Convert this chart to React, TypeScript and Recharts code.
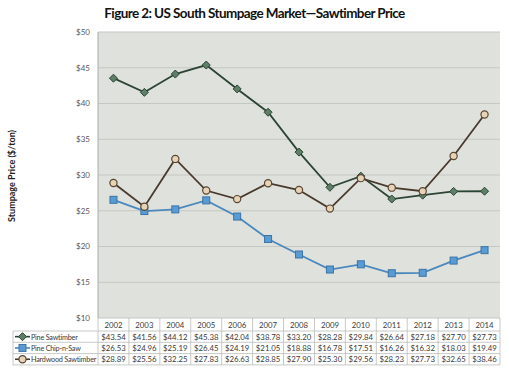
import { LineChart, Line, XAxis, YAxis, CartesianGrid } from "recharts";

const years = ["2002", "2003", "2004", "2005", "2006", "2007", "2008", "2009", "2010", "2011", "2012", "2013", "2014"];
const pineSawtimber = [43.54, 41.56, 44.12, 45.38, 42.04, 38.78, 33.2, 28.28, 29.84, 26.64, 27.18, 27.7, 27.73];
const pineChipNSaw = [26.53, 24.96, 25.19, 26.45, 24.19, 21.05, 18.88, 16.78, 17.51, 16.26, 16.32, 18.03, 19.49];
const hardwoodSawtimber = [28.89, 25.56, 32.25, 27.83, 26.63, 28.85, 27.9, 25.3, 29.56, 28.23, 27.73, 32.65, 38.46];
const yTicks = [10, 15, 20, 25, 30, 35, 40, 45, 50];

const FONT = "Lato, 'Open Sans', sans-serif";
const PLOT_L = 98;
const PLOT_R = 500;
const COL_W = (PLOT_R - PLOT_L) / years.length;
const TABLE_L = 13;
const ROWS = [0, 13, 24.3, 35.6, 46.9]; // row edges below plot bottom
const GRID = "#b9bcb8";
const TXT = "#3a3a3a";

const series = [
  { key: "pine", name: "Pine Sawtimber", values: pineSawtimber, line: "#2b4434", fill: "#5e7e68", mark: "diamond" },
  { key: "chip", name: "Pine Chip-n-Saw", values: pineChipNSaw, line: "#4a88bd", fill: "#5a9bd3", mark: "square" },
  { key: "hard", name: "Hardwood Sawtimber", values: hardwoodSawtimber, line: "#4a3a2d", fill: "#e7d4b7", mark: "circle" },
];

const data = years.map((y, i) => ({
  year: y,
  pine: pineSawtimber[i],
  chip: pineChipNSaw[i],
  hard: hardwoodSawtimber[i],
}));

function Marker({ cx, cy, mark, fill, stroke }: any) {
  if (cx == null || cy == null) return null;
  if (mark === "diamond") {
    const r = 4;
    return <polygon points={`${cx},${cy - r} ${cx + r},${cy} ${cx},${cy + r} ${cx - r},${cy}`} fill={fill} stroke={stroke} strokeWidth={1} />;
  }
  if (mark === "square") {
    return <rect x={cx - 3.5} y={cy - 3.5} width={7} height={7} fill={fill} stroke="#3b74a6" strokeWidth={1} />;
  }
  return <circle cx={cx} cy={cy} r={3.6} fill={fill} stroke="#5a4535" strokeWidth={1.2} />;
}

function TableTick({ x, y, payload }: any) {
  const i = payload.index;
  const left = x - COL_W / 2;
  const top = y;
  return (
    <g fontFamily={FONT} fontSize={7.8} fill={TXT}>
      <line x1={left} x2={left} y1={top} y2={top + ROWS[4]} stroke={GRID} strokeWidth={0.8} />
      {i === years.length - 1 && (
        <line x1={left + COL_W} x2={left + COL_W} y1={top} y2={top + ROWS[4]} stroke={GRID} strokeWidth={0.8} />
      )}
      <text x={x} y={top + 9.5} textAnchor="middle" fill={TXT}>{payload.value}</text>
      {series.map((s, r) => (
        <text key={s.key} x={x} y={top + ROWS[r + 1] + 8.5} textAnchor="middle" fill={TXT}>
          ${s.values[i].toFixed(2)}
        </text>
      ))}
      {i === 0 && (
        <g>
          {[1, 2, 3, 4].map((r) => (
            <line key={r} x1={TABLE_L} x2={PLOT_R} y1={top + ROWS[r]} y2={top + ROWS[r]} stroke={GRID} strokeWidth={0.8} />
          ))}
          <line x1={TABLE_L} x2={TABLE_L} y1={top + ROWS[1]} y2={top + ROWS[4]} stroke={GRID} strokeWidth={0.8} />
          {series.map((s, r) => {
            const cy = top + (ROWS[r + 1] + ROWS[r + 2]) / 2;
            return (
              <g key={s.key}>
                <line x1={TABLE_L + 2} x2={TABLE_L + 17} y1={cy} y2={cy} stroke={s.line} strokeWidth={1.6} />
                <Marker cx={TABLE_L + 9.5} cy={cy} mark={s.mark} fill={s.fill} stroke={s.line} />
                <text x={TABLE_L + 18} y={cy + 3} fill={TXT} fontSize={7.2} letterSpacing={-0.2}>{s.name}</text>
              </g>
            );
          })}
        </g>
      )}
    </g>
  );
}

export default function App() {
  return (
    <div style={{ position: "absolute", left: 0, top: 0, width: 509, height: 369, background: "#fff" }}>
      <div
        style={{
          position: "absolute", left: 0, top: 5, width: 509, textAlign: "center",
          fontFamily: FONT, fontWeight: 700, fontSize: 13.5, letterSpacing: -0.6, color: "#111",
        }}
      >
        Figure 2: US South Stumpage Market—Sawtimber Price
      </div>
      <LineChart width={509} height={369} data={data} margin={{ top: 32, right: 9, left: 0, bottom: 0 }}>
        <CartesianGrid horizontal vertical={false} stroke="#c4c8c2" fill="#dfe1dc" />
        <XAxis
          dataKey="year"
          scale="band"
          height={51}
          axisLine={false}
          tickLine={false}
          tickSize={0}
          tickMargin={0}
          interval={0}
          tick={<TableTick />}
        />
        <YAxis
          width={98}
          domain={[10, 50]}
          ticks={yTicks}
          tickFormatter={(v) => `$${v}`}
          tick={{ fill: "#595959", fontSize: 8, fontFamily: FONT }}
          axisLine={{ stroke: "#a9aca8" }}
          tickLine={false}
          label={{
            content: () => (
              <text x={15} y={176} transform="rotate(-90 15 176)" textAnchor="middle"
                fontFamily={FONT} fontSize={9} fontWeight={700} fill="#222">
                Stumpage Price ($/ton)
              </text>
            ),
          }}
        />
        {series.map((s) => (
          <Line
            key={s.key}
            dataKey={s.key}
            name={s.name}
            stroke={s.line}
            strokeWidth={1.8}
            isAnimationActive={false}
            dot={(p: any) => <Marker key={`${s.key}-${p.index}`} cx={p.cx} cy={p.cy} mark={s.mark} fill={s.fill} stroke={s.line} />}
            activeDot={false}
          />
        ))}
      </LineChart>
    </div>
  );
}
